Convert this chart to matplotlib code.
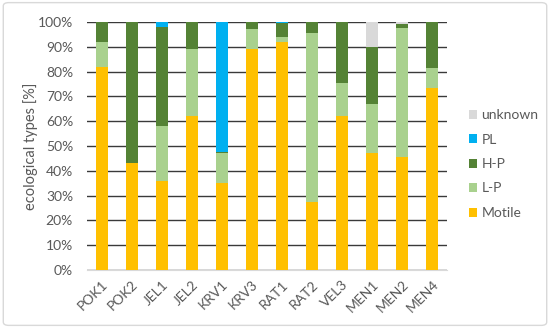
import numpy as np
import matplotlib.pyplot as plt
from matplotlib.patches import FancyBboxPatch
from matplotlib.ticker import PercentFormatter

plt.rcParams['font.family'] = ['Lato', 'DejaVu Sans']

# ---------------- data ----------------
sites = ["POK1", "POK2", "JEL1", "JEL2", "KRV1", "KRV3",
         "RAT1", "RAT2", "VEL3", "MEN1", "MEN2", "MEN4"]
motile  = [82, 43, 36, 62, 35, 89, 92, 27.5, 62, 47, 45.5, 73.5]
lp      = [10, 0, 22, 27, 12, 8, 2, 68, 13.5, 20, 52, 8]
hp      = [8, 57, 40, 11, 0.5, 3, 5.5, 4.5, 24.5, 23, 1.5, 18.5]
pl      = [0, 0, 2, 0, 52.5, 0, 0.5, 0, 0, 0, 0, 0]
unknown = [0, 0, 0, 0, 0, 0, 0, 0, 0, 10, 1, 0]

series = [("Motile", motile, "#FFC000"),
          ("L-P", lp, "#A9D18E"),
          ("H-P", hp, "#548235"),
          ("PL", pl, "#00B0F0"),
          ("unknown", unknown, "#D9D9D9")]

# ---------------- figure ----------------
fig = plt.figure(figsize=(5.5, 3.28), dpi=100)
fig.patches.append(FancyBboxPatch((0.006, 0.008), 0.988, 0.984,
                                  boxstyle="round,pad=0,rounding_size=0.01",
                                  transform=fig.transFigure, fill=False,
                                  edgecolor="#D9D9D9", lw=1))
ax = fig.add_axes([0.158, 0.177, 0.655, 0.756])

x = np.arange(len(sites))
bottom = np.zeros(len(sites))
handles = []
for name, vals, col in series:
    v = np.array(vals, dtype=float)
    h = ax.bar(x, v, width=0.38, bottom=bottom, color=col, label=name, zorder=3)
    handles.append(h)
    bottom += v

ax.set_ylim(0, 100)
ax.set_xlim(-0.5, len(sites) - 0.5)
ax.set_yticks(np.arange(0, 101, 10))
ax.yaxis.set_major_formatter(PercentFormatter(decimals=0))
ax.grid(axis='y', color='#3a3a3a', lw=1, zorder=0)
for s in ['top', 'right', 'left']:
    ax.spines[s].set_visible(False)
ax.spines['bottom'].set_color('#D9D9D9')
ax.tick_params(length=0, labelsize=10, labelcolor='#595959')
ax.tick_params(axis='y', pad=10)
ax.tick_params(axis='x', pad=6)
ax.set_xticks(x)
ax.set_xticklabels(sites, rotation=45, ha='right', rotation_mode='anchor')
ax.set_ylabel("ecological types [%]", fontsize=10.5, color='#595959')
ax.yaxis.set_label_coords(-0.135, 0.5)

leg = fig.legend(handles[::-1], [s[0] for s in series][::-1],
                 loc='center left', bbox_to_anchor=(0.83, 0.50),
                 frameon=False, fontsize=10, handlelength=0.6,
                 handleheight=0.6, handletextpad=0.3, labelspacing=0.9)
for t in leg.get_texts():
    t.set_color('#595959')

fig.savefig("out.png", dpi=100)
